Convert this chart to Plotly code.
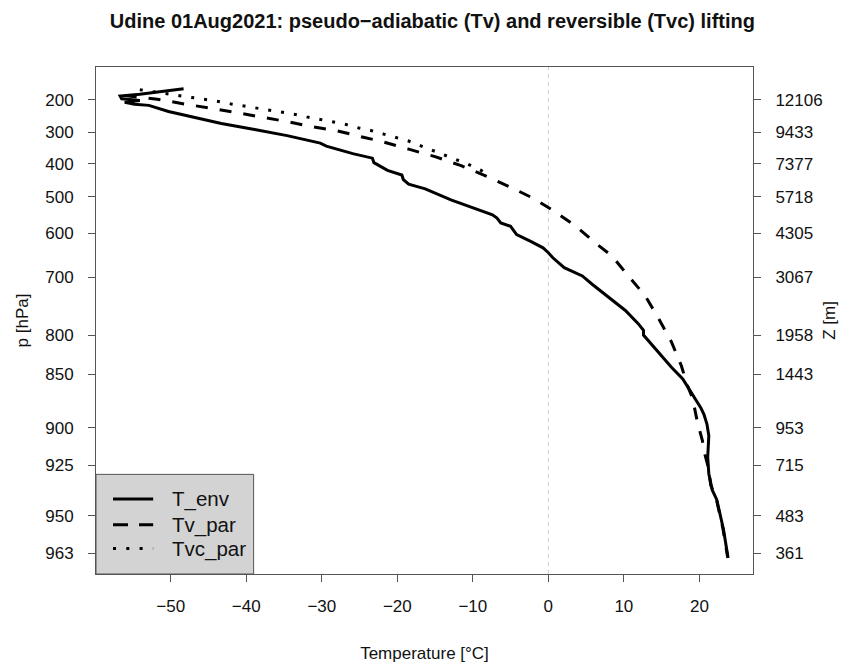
import numpy as np
import plotly.graph_objects as go

# Sounding reference levels (axis tick labels): pressure [hPa] and height [m]
p_ticks = [200, 300, 400, 500, 600, 700, 800, 850, 900, 925, 950, 963]
z_ticks = [12106, 9433, 7377, 5718, 4305, 3067, 1958, 1443, 953, 715, 483, 361]
x_ticks = [-50, -40, -30, -20, -10, 0, 10, 20]

# Environmental temperature profile
p_env = [165.4, 173.8, 182.3, 187.9, 196.3, 202.0, 207.6, 213.2, 216.9, 235.8,
         249.9, 273.2, 292.1, 311.1, 334.7, 344.0, 367.9, 382.1, 396.3, 419.7,
         433.8, 447.9, 462.0, 476.0, 508.7, 531.2, 549.3, 558.3, 571.8, 580.8,
         602.9, 617.9, 633.1, 644.4, 655.8, 678.5, 697.3, 712.3, 734.9, 757.6,
         780.4, 791.7, 800.1, 821.6, 840.9, 854.2, 869.2, 881.3, 887.3, 896.4,
         905.2, 919.9, 929.3, 937.3, 942.1, 954.9, 964.7]
t_env = [-48.3, -50.9, -54.1, -56.7, -56.5, -54.1, -56.1, -54.8, -52.9, -50.3,
         -47.7, -43.3, -38.9, -34.6, -30.2, -29.4, -25.9, -23.3, -23.1, -21.3,
         -19.4, -19.2, -18.5, -16.3, -12.9, -9.8, -7.4, -6.8, -6.3, -5.0,
         -4.2, -2.4, -0.7, 0.0, 0.6, 2.1, 4.5, 5.8, 8.0, 10.2,
         11.9, 12.6, 12.6, 14.5, 16.3, 17.8, 19.1, 20.2, 20.6, 21.0,
         21.25, 21.1, 21.25, 21.7, 22.3, 23.2, 23.8]

# Pseudo-adiabatic parcel virtual temperature
p_tv = [186.5, 192.1, 197.7, 211.8, 224.5, 238.6, 252.7, 266.8, 282.3, 296.3,
        316.2, 329.8, 353.7, 377.3, 405.6, 438.6, 471.3, 504.1, 540.1, 580.8,
        625.6, 651.2, 697.3, 732.0, 769.0, 808.7, 838.7, 860.1, 872.3, 893.4,
        908.6, 917.4, 926.3, 934.9, 941.1, 954.2, 964.5]
t_tv = [-56.1, -53.9, -51.8, -48.4, -44.9, -41.4, -38.2, -34.7, -31.5, -27.9,
        -24.5, -22.0, -18.5, -15.0, -11.55, -8.1, -5.0, -2.0, 0.83, 3.65,
        6.5, 8.4, 10.6, 12.8, 14.5, 16.3, 17.6, 18.4, 19.1, 19.7,
        20.4, 20.7, 21.2, 21.5, 22.2, 23.1, 23.75]

# Reversible parcel virtual temperature (upper part, where it departs from Tv)
p_tvc = [168.2, 173.8, 185.9, 191.5, 198.3, 204.8, 212.4, 218.0, 225.4, 231.0,
         238.6, 245.1, 252.7, 260.3, 267.6, 276.1, 287.3, 294.9, 306.3, 317.6,
         328.1, 344.0, 358.2, 372.4, 386.6, 400.8, 419.7, 428.0]
t_tvc = [-54.1, -52.5, -49.0, -47.2, -45.4, -43.7, -42.0, -40.5, -38.8, -37.0,
         -35.2, -33.5, -32.0, -30.3, -28.5, -26.8, -25.1, -23.5, -21.8, -20.2,
         -18.5, -16.8, -15.3, -13.7, -12.2, -10.7, -8.9, -8.5]

series_names = ["T_env", "Tv_par", "Tvc_par"]
series_dash = ["solid", "12px,12px", "3px,10px"]
legend_dash = ["solid", "15px,11px", "3px,10.3px"]

# pressure -> height using the sounding's reference levels (log-height interpolation)
lp = np.array(p_ticks, float)
lz = np.log10(np.array(z_ticks, float))


def p_to_z(p):
    p = np.asarray(p, float)
    out = np.interp(p, lp, lz)
    lo = p < lp[0]
    s0 = (lz[1] - lz[0]) / (lp[1] - lp[0])
    out[lo] = lz[0] + s0 * (p[lo] - lp[0])
    hi = p > lp[-1]
    s1 = (lz[-1] - lz[-2]) / (lp[-1] - lp[-2])
    out[hi] = lz[-1] + s1 * (p[hi] - lp[-1])
    return 10 ** out


FONT = "Liberation Sans, Arial, Helvetica, sans-serif"
AX = "#555555"
TXT = "#111111"

fig = go.Figure()
for name, pp, tt, dash in zip(series_names, [p_env, p_tv, p_tvc],
                              [t_env, t_tv, t_tvc], series_dash):
    fig.add_trace(go.Scatter(x=tt, y=p_to_z(pp), mode="lines", name=name,
                             line=dict(color="black", width=3, dash=dash)))
fig.add_trace(go.Scatter(x=[None], y=[None], yaxis="y2", showlegend=False,
                         hoverinfo="skip"))

yr = [2.4875, 4.1938]

# zero-degree guide line
fig.add_shape(type="line", xref="x", yref="paper", x0=0, x1=0, y0=0, y1=1,
              line=dict(color="#cccccc", width=1, dash="4px,4px"), layer="below")

# legend box (bottom-left, R style)
fig.add_shape(type="rect", xref="paper", yref="paper", x0=0, x1=0.2399, y0=0,
              y1=0.1965, fillcolor="#d3d3d3", line=dict(color=AX, width=1),
              layer="above")
row_y = [0.1478, 0.0969, 0.0501]
for name, dash, yy in zip(series_names, legend_dash, row_y):
    fig.add_shape(type="line", xref="paper", yref="paper", x0=0.0259, x1=0.087,
                  y0=yy, y1=yy, line=dict(color="black", width=3, dash=dash),
                  layer="above")
    fig.add_annotation(text=name, xref="paper", yref="paper", x=0.1120, y=yy,
                       xanchor="left", yanchor="middle", showarrow=False,
                       font=dict(family=FONT, size=20.5, color=TXT))

fig.update_layout(
    width=848, height=671,
    margin=dict(l=96, r=85, t=67, b=85),
    plot_bgcolor="white", paper_bgcolor="white",
    font=dict(family=FONT, size=17, color=TXT),
    showlegend=False,
    title=dict(text="<b>Udine 01Aug2021: pseudo\u2212adiabatic (Tv) and reversible (Tvc) lifting</b>",
               x=0.512, xref="paper", xanchor="center", y=1 - 21 / 671,
               yref="container", yanchor="middle",
               font=dict(family=FONT, size=20, color=TXT)),
    xaxis=dict(range=[-59.9, 27.1], tickvals=x_ticks,
               ticktext=[("\u2212" + str(-v)) if v < 0 else str(v) for v in x_ticks],
               ticks="outside", ticklen=7, tickcolor=AX, tickwidth=1,
               showline=True, linecolor=AX, linewidth=1, mirror=True,
               showgrid=False, zeroline=False, ticklabelstandoff=10,
               tickfont=dict(size=17),
               title=dict(text="Temperature [°C]", standoff=31,
                          font=dict(size=17))),
    yaxis=dict(type="log", range=yr, tickvals=z_ticks,
               ticktext=[str(v) for v in p_ticks],
               ticks="outside", ticklen=7, tickcolor=AX, tickwidth=1,
               showline=True, linecolor=AX, linewidth=1,
               showgrid=False, zeroline=False, ticklabelstandoff=11,
               tickfont=dict(size=17),
               title=dict(text="p [hPa]", standoff=12, font=dict(size=17))),
    yaxis2=dict(type="log", range=yr, overlaying="y", side="right",
                tickvals=z_ticks, ticktext=[str(v) for v in z_ticks],
                ticks="outside", ticklen=7, tickcolor=AX, tickwidth=1,
                showline=True, linecolor=AX, linewidth=1,
                showgrid=False, zeroline=False, ticklabelstandoff=11,
                tickfont=dict(size=17),
                title=dict(text="Z [m]", standoff=1, font=dict(size=17))),
)

fig.write_html("out.html")
